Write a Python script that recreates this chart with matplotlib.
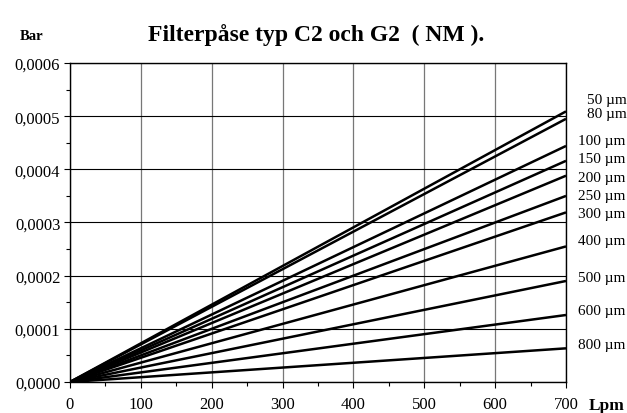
import numpy as np
import matplotlib
matplotlib.use('Agg')
import matplotlib.pyplot as plt
from matplotlib.ticker import MultipleLocator, FuncFormatter

# pressure drop at 700 Lpm for each mesh size (lines start at origin)
mesh_labels = ['50 µm', '80 µm', '100 µm', '150 µm', '200 µm', '250 µm',
               '300 µm', '400 µm', '500 µm', '600 µm', '800 µm']
flow = [0, 700]
drop_at_700 = [0.000509, 0.000495, 0.000444, 0.000416, 0.000388, 0.000350,
               0.000319, 0.000255, 0.000190, 0.000126, 0.0000633]
label_y = [0.000531, 0.000505, 0.000455, 0.000421, 0.000384, 0.000350,
           0.000316, 0.000266, 0.000196, 0.000135, 0.0000696]

plt.rcParams['font.family'] = ['Liberation Serif', 'DejaVu Serif']

fig = plt.figure(figsize=(6.27, 4.14), dpi=100)
ax = fig.add_axes([0.1116, 0.0749, 0.7911, 0.7705])

for val in drop_at_700:
    ax.plot(flow, [0, val], color='black', linewidth=1.8, solid_capstyle='butt')

ax.set_xlim(0, 700)
ax.set_ylim(0, 0.0006)
ax.xaxis.set_major_locator(MultipleLocator(100))
ax.xaxis.set_minor_locator(MultipleLocator(50))
ax.yaxis.set_major_locator(MultipleLocator(0.0001))
ax.yaxis.set_minor_locator(MultipleLocator(0.00005))
ax.yaxis.set_major_formatter(FuncFormatter(lambda v, p: f"{v:.4f}".replace('.', ',')))

ax.tick_params(which='both', direction='out', labelsize=12, width=0.8)
ax.tick_params(which='major', length=4)
ax.tick_params(which='minor', length=3)
ax.tick_params(axis='x', pad=6)
ax.tick_params(axis='y', pad=3)

ax.xaxis.grid(True, which='major', color='#777777', linewidth=0.9)
ax.yaxis.grid(True, which='major', color='black', linewidth=0.8)
for s in ax.spines.values():
    s.set_linewidth(1.0)

for lab, y in zip(mesh_labels, label_y):
    x = 729 if lab in ('50 µm', '80 µm') else 717
    ax.text(x, y, lab, fontsize=11, va='center', ha='left', clip_on=False)

fig.text(0.504, 0.915, 'Filterpåse typ C2 och G2  ( NM ).', fontsize=17,
         fontweight='bold', ha='center', va='center')
fig.text(0.050, 0.911, 'Bar', fontsize=10.5, fontweight='bold', ha='center', va='center')
fig.text(0.967, 0.02, 'Lpm', fontsize=12.5, fontweight='bold', ha='center', va='center')

fig.savefig('out.png', dpi=100)
